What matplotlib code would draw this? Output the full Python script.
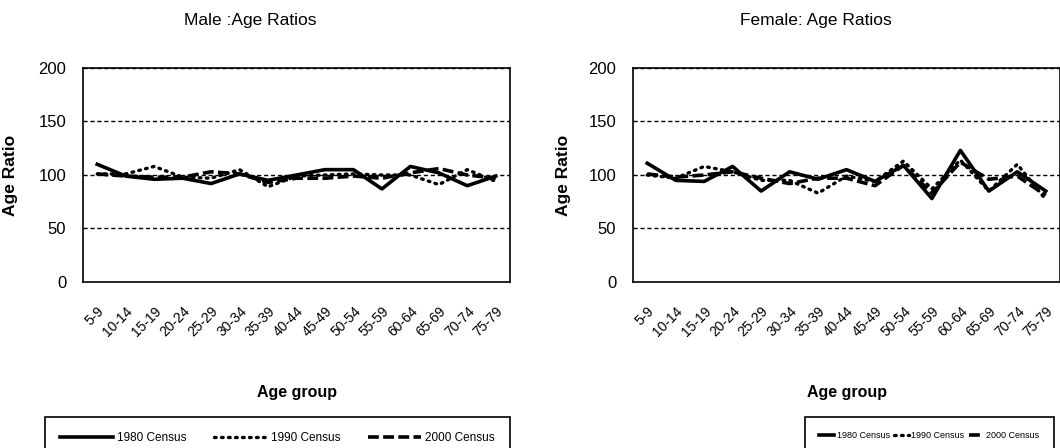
import numpy as np
import matplotlib.pyplot as plt
from matplotlib.lines import Line2D

plt.rcParams['font.family'] = ['Liberation Sans', 'DejaVu Sans']

age_groups = ["5-9", "10-14", "15-19", "20-24", "25-29", "30-34", "35-39", "40-44",
              "45-49", "50-54", "55-59", "60-64", "65-69", "70-74", "75-79"]

# male age ratios
male_1980 = [110, 99, 96, 97, 92, 101, 95, 100, 105, 105, 87, 108, 102, 90, 99]
male_1990 = [101, 101, 108, 98, 97, 105, 89, 99, 100, 101, 100, 100, 91, 105, 94]
male_2000 = [101, 99, 98, 98, 103, 101, 93, 97, 97, 99, 97, 102, 106, 100, 97]

# female age ratios
female_1980 = [111, 95, 94, 108, 85, 103, 96, 105, 94, 109, 78, 123, 85, 103, 85]
female_1990 = [100, 97, 108, 103, 95, 95, 83, 99, 94, 113, 87, 114, 85, 110, 77]
female_2000 = [101, 98, 100, 103, 97, 92, 97, 97, 90, 109, 83, 112, 96, 99, 81]

series_names = ["1980 Census", "1990 Census", "2000 Census"]
styles = [dict(linestyle='-', linewidth=2.6),
          dict(linestyle=(0, (0.5, 1.6)), linewidth=2.4, dash_capstyle='round'),
          dict(linestyle=(0, (3, 1.2)), linewidth=2.6)]

fig = plt.figure(figsize=(10.6, 4.48), dpi=100)
W, H = 1060, 448


def panel(left_px, data):
    ax = fig.add_axes([left_px / W, 1 - 282 / H, 427 / W, 214 / H])
    x = np.arange(len(age_groups))
    for vals, st in zip(data, styles):
        ax.plot(x, vals, color='black', **st)
    ax.set_xlim(-0.5, len(age_groups) - 0.5)
    ax.set_ylim(0, 200)
    ax.set_yticks([0, 50, 100, 150, 200])
    for yv in [50, 100, 150, 200]:
        ax.axhline(yv, color='black', linestyle=(0, (3, 2)), linewidth=1.0, zorder=0)
    ax.set_xticks(x)
    ax.set_xticklabels(age_groups, rotation=45, ha='right', rotation_mode='anchor',
                       fontsize=10)
    ax.tick_params(axis='x', length=0, pad=16)
    ax.tick_params(axis='y', length=0, pad=12, labelsize=12)
    for s in ax.spines.values():
        s.set_color('black')
        s.set_linewidth(1.2)
    ax.set_ylabel("Age Ratio", fontsize=12.5, fontweight='bold')
    return ax


ax1 = panel(83, [male_1980, male_1990, male_2000])
ax2 = panel(633, [female_1980, female_1990, female_2000])
ax1.yaxis.set_label_coords(-(83 - 18) / 427, 0.5)
ax2.yaxis.set_label_coords(-(633 - 571) / 427, 0.5)

fig.text(250 / W, 1 - 20 / H, "Male :Age Ratios", ha='center', va='center', fontsize=12.5)
fig.text(816 / W, 1 - 20 / H, "Female: Age Ratios", ha='center', va='center', fontsize=12.5)
fig.text(297 / W, 1 - 392 / H, "Age group", ha='center', va='center', fontsize=11.5,
         fontweight='bold')
fig.text(847 / W, 1 - 392 / H, "Age group", ha='center', va='center', fontsize=11.5,
         fontweight='bold')

handles = [Line2D([], [], color='black', **st) for st in styles]
top = 1 - 417 / H

leg1 = fig.legend(handles, series_names, loc='upper left', ncol=3,
                  bbox_to_anchor=(45 / W, top - 0.1, 465 / W, 0.1), mode='expand',
                  fontsize=8.5, handlelength=4.5, handletextpad=0.3,
                  borderaxespad=0, borderpad=1.3, fancybox=False, framealpha=1)
leg1.get_frame().set_edgecolor('black')
leg1.get_frame().set_linewidth(1.2)

leg2 = fig.legend(handles, series_names, loc='upper left', ncol=3,
                  bbox_to_anchor=(805 / W, top), fontsize=6.5, handlelength=1.6,
                  handletextpad=0.3, columnspacing=0.5,
                  borderaxespad=0, borderpad=1.6, fancybox=False, framealpha=1)
leg2.get_frame().set_edgecolor('black')
leg2.get_frame().set_linewidth(1.2)

fig.savefig("out.png", dpi=100)
